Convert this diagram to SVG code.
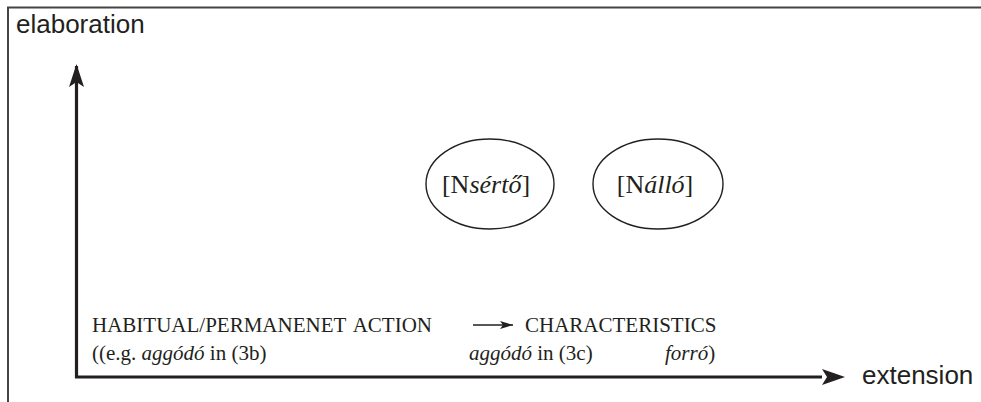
<svg xmlns="http://www.w3.org/2000/svg" width="981" height="402" viewBox="0 0 981 402">
  <style>
    .sans { font-family: "Liberation Sans", Arial, sans-serif; font-size: 26px; fill: #231f20; }
    .serif { font-family: "Liberation Serif", "Times New Roman", serif; font-size: 21px; fill: #231f20; }
    .label { font-size: 26px; }
    .it { font-style: italic; }
    .axis { stroke: #231f20; stroke-width: 3.2; fill: none; }
    .thin { stroke: #231f20; stroke-width: 1.4; fill: none; }
    .node { fill: #ffffff; stroke: #231f20; stroke-width: 1.4; }
  </style>
  <defs>
    <marker id="small" markerWidth="14" markerHeight="10" refX="13" refY="4" orient="auto" markerUnits="userSpaceOnUse">
      <path d="M0,0 L13,4 L0,8 L3,4 Z" fill="#231f20"/>
    </marker>
  </defs>

  <!-- frame -->
  <path d="M8,402 V7.5 H981" stroke="#444" stroke-width="2" fill="none"/>

  <text class="sans" x="16" y="33">elaboration</text>
  <text class="sans" x="862" y="384">extension</text>

  <g id="connectors">
    <!-- vertical axis -->
    <path class="axis" d="M76.5,378 V66"/>
    <path d="M76.5,64 L84,87 L76.5,82 L69,87 Z" fill="#231f20"/>
    <!-- horizontal axis -->
    <path class="axis" d="M75,377 H822"/>
    <path d="M845,377 L822,369 L827,377 L822,385 Z" fill="#231f20"/>
    <!-- action to characteristics -->
    <path class="thin" d="M473,325 H513" marker-end="url(#small)"/>
  </g>

  <g id="node-serto">
    <ellipse class="node" cx="490" cy="184" rx="64" ry="45"/>
    <text class="serif label" x="486" y="193" text-anchor="middle">[N<tspan class="it">sértő</tspan>]</text>
  </g>

  <g id="node-allo">
    <ellipse class="node" cx="658" cy="184" rx="65" ry="45"/>
    <text class="serif label" x="655" y="193" text-anchor="middle">[N<tspan class="it">álló</tspan>]</text>
  </g>

  <g id="labels">
    <text class="serif" x="92" y="332">HABITUAL/PERMANENET<tspan dx="8">ACTION</tspan></text>
    <text class="serif" x="525" y="332">CHARACTERISTICS</text>
    <text class="serif" x="92" y="360">((e.g. <tspan class="it">aggódó</tspan> in (3b)</text>
    <text class="serif" x="469" y="360"><tspan class="it">aggódó</tspan> in (3c)</text>
    <text class="serif" x="665" y="360"><tspan class="it">forró</tspan>)</text>
  </g>
</svg>
